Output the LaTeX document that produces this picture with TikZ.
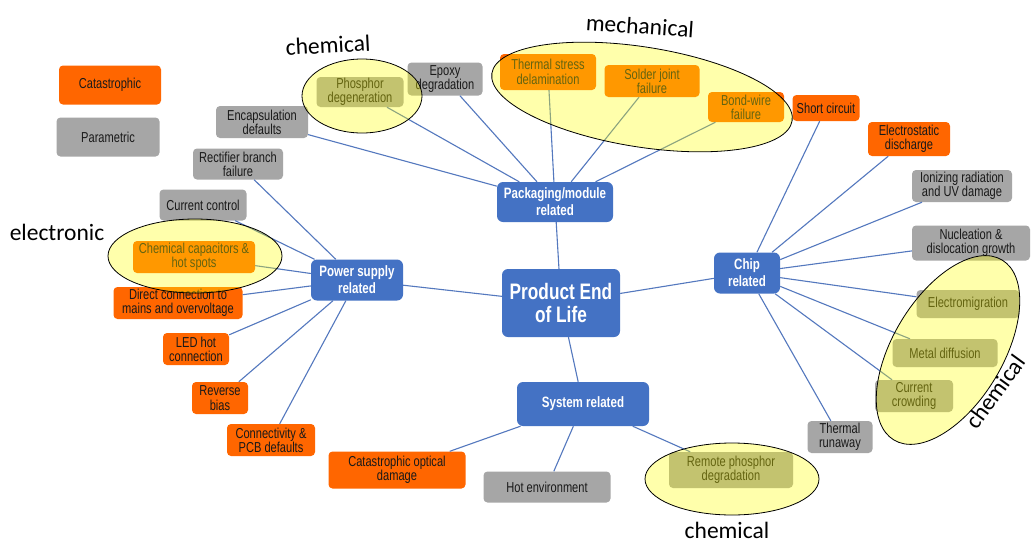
\documentclass[tikz,border=0pt]{standalone}
\usepackage{fontspec}
\newfontfamily\arialc[FakeStretch=0.77]{Liberation Sans}
\newfontfamily\calib{Carlito}
\newcommand\boxfnt{\arialc\fontsize{14.4}{14.3}\selectfont}
\newcommand\hubfnt{\arialc\bfseries\fontsize{15}{17}\selectfont}
\newcommand\bigfnt{\arialc\bfseries\fontsize{22.4}{23.5}\selectfont}
\newcommand\tagfnt{\calib\fontsize{23.5}{26}\selectfont}
\definecolor{catc}{HTML}{FF6600}
\definecolor{parc}{HTML}{A6A6A6}
\definecolor{hubc}{HTML}{4472C4}
\definecolor{linec}{RGB}{84,120,190}
\definecolor{zonec}{HTML}{FFFF00}
\tikzset{
  base/.style={rounded corners=4pt, align=center, inner sep=0pt, font=\boxfnt, text=black!90},
  cat/.style={base, fill=catc},
  par/.style={base, fill=parc},
  hub/.style={rounded corners=6pt, align=center, inner sep=0pt, fill=hubc, text=white, font=\hubfnt},
  link/.style={draw=linec, line width=1.1pt},
  zone/.style={fill=zonec, fill opacity=0.33, draw=black, line width=0.8pt},
  tag/.style={font=\tagfnt, inner sep=0pt},
  sz/.style 2 args={minimum width=#1pt, minimum height=#2pt}
}
\begin{document}
\begin{tikzpicture}[x=1pt,y=-1pt]
\useasboundingbox (0,0) rectangle (1031,544);
\fill[white] (0,0) rectangle (1031,544);

% legend
\node[cat, sz={102}{39}] (legcat) at (110,85) {Catastrophic};
\node[par, sz={103}{39}] (legpar) at (108,137) {Parametric};

% hubs
\node[hub, font=\bigfnt, sz={118}{68}] (pel) at (561,303) {Product End\\of Life};
\node[hub, sz={116}{40}] (pkg) at (555,202) {Packaging/module\\related};
\node[hub, sz={92}{41}] (pwr) at (357,280) {Power supply\\related};
\node[hub, sz={66}{41}] (chip) at (747,273) {Chip\\related};
\node[hub, sz={132}{44}] (sys) at (583,404) {System related};

% packaging children
\node[par, sz={87}{30}] (phos) at (360,92) {Phosphor\\degeneration};
\node[par, sz={75}{33}] (epoxy) at (445,79) {Epoxy\\degradation};
\node[par, sz={92}{32}] (encap) at (262,122) {Encapsulation\\defaults};
\node[cat, sz={96}{36}] (therm) at (548,72) {Thermal stress\\delamination};
\node[cat, sz={95}{32}] (solder) at (652,81) {Solder joint\\failure};
\node[cat, sz={76}{30}] (bond) at (746,107) {Bond-wire\\failure};

% power supply children
\node[par, sz={90}{31}] (rect) at (238,164) {Rectifier branch\\failure};
\node[par, sz={87}{31}] (curr) at (203,205) {Current control};
\node[cat, sz={122}{32}] (capa) at (194,257) {Chemical capacitors \&\\hot spots};
\node[cat, sz={129}{32}] (direct) at (178,303) {Direct connection to\\mains and overvoltage};
\node[cat, sz={66}{32}] (led) at (196,349) {LED hot\\connection};
\node[cat, sz={56}{32}] (rev) at (220,398) {Reverse\\bias};
\node[cat, sz={88}{32}] (conn) at (271,440) {Connectivity \&\\PCB defaults};

% system children
\node[cat, sz={137}{37}] (cod) at (397,470) {Catastrophic optical\\damage};
\node[par, sz={127}{31}] (hot) at (547,487) {Hot environment};
\node[par, sz={124}{36}] (remote) at (731,470) {Remote phosphor\\degradation};

% chip children
\node[cat, sz={67}{26}] (short) at (826,108) {Short circuit};
\node[cat, sz={82}{34}] (esd) at (909,139) {Electrostatic\\discharge};
\node[par, sz={100}{32}] (ion) at (962,186) {Ionizing radiation\\and UV damage};
\node[par, sz={118}{35}] (nuc) at (971,243) {Nucleation \&\\dislocation growth};
\node[par, sz={103}{28}] (emig) at (968,304) {Electromigration};
\node[par, sz={105}{28}] (mdif) at (945,353) {Metal diffusion};
\node[par, sz={78}{32}] (ccrowd) at (914,396) {Current\\crowding};
\node[par, sz={65}{32}] (trun) at (840,437) {Thermal\\runaway};

% connectors
\foreach \a/\b in {pkg/pel, pwr/pel, chip/pel, sys/pel,
  phos/pkg, epoxy/pkg, encap/pkg, therm/pkg, solder/pkg, bond/pkg,
  rect/pwr, curr/pwr, capa/pwr, direct/pwr, led/pwr, rev/pwr, conn/pwr,
  cod/sys, hot/sys, remote/sys,
  short/chip, esd/chip, ion/chip, nuc/chip, emig/chip, mdif/chip, ccrowd/chip, trun/chip}
  \draw[link] (\a) -- (\b);

% overlay zones
\draw[zone] (362,96) ellipse [x radius=60pt, y radius=37pt];
\draw[zone] (195,256) ellipse [x radius=87pt, y radius=37pt];
\draw[zone] (732,479) ellipse [x radius=87pt, y radius=36pt];
\begin{scope}[shift={(642,97)}, rotate=-9]
  \draw[zone] (0,0) ellipse [x radius=152pt, y radius=50pt];
\end{scope}
\begin{scope}[shift={(948,350)}, rotate=59]
  \draw[zone] (0,0) ellipse [x radius=105pt, y radius=55pt];
\end{scope}

% zone labels
\node[tag, rotate=3] (t1) at (328,45) {chemical};
\node[tag, rotate=-4] (t2) at (640,26) {mechanical};
\node[tag] (t3) at (57,232) {electronic};
\node[tag, rotate=54] (t4) at (995,392) {chemical};
\node[tag] (t5) at (727,530) {chemical};
\end{tikzpicture}
\end{document}
